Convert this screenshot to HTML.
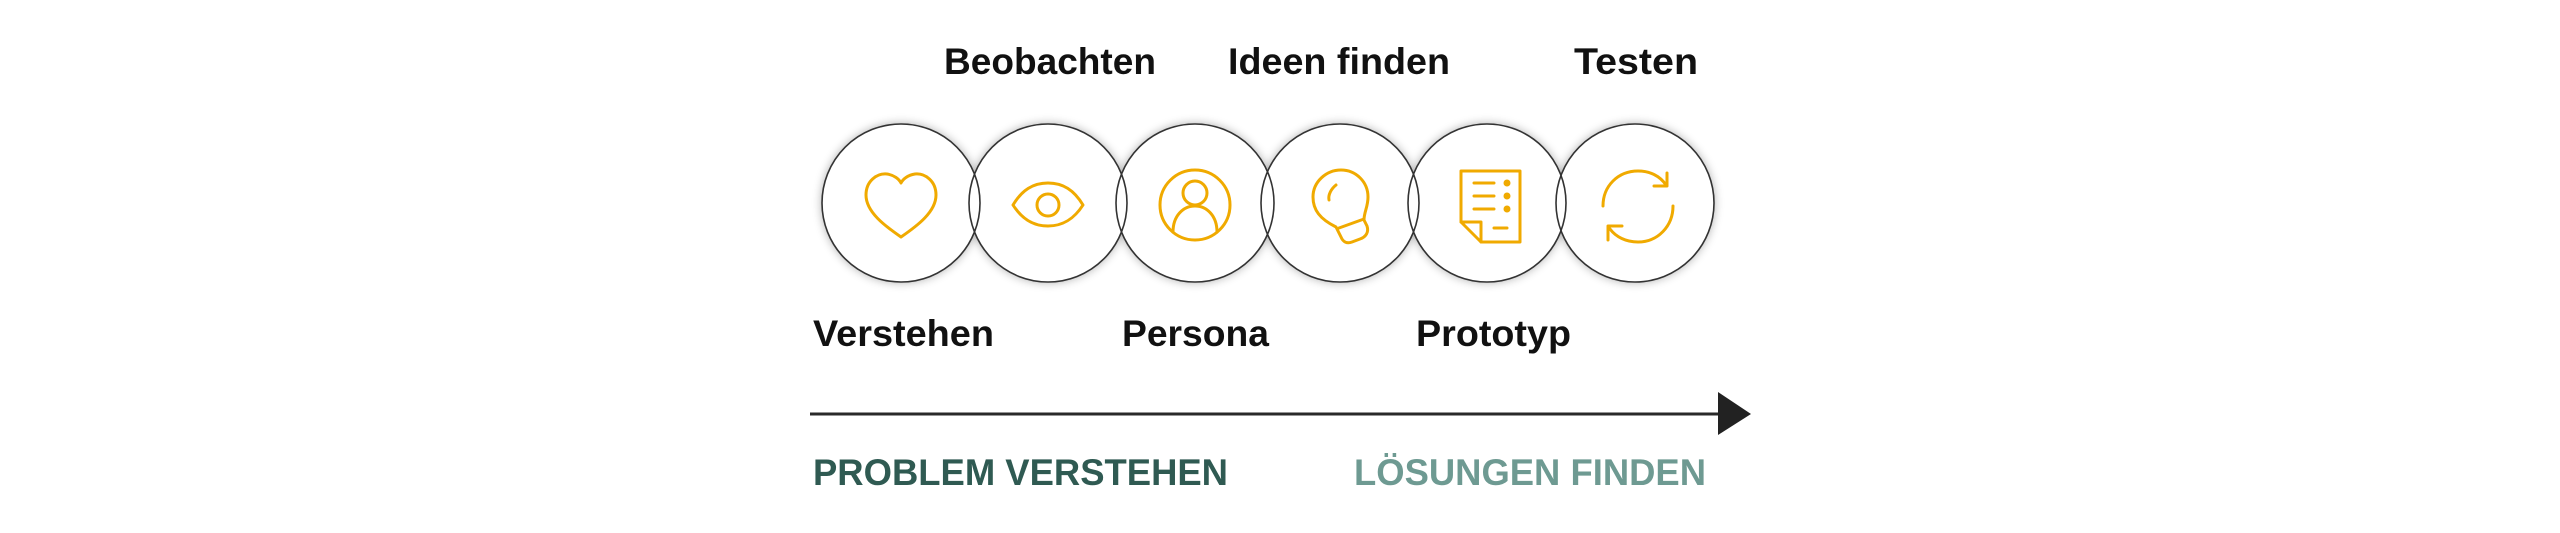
<!DOCTYPE html>
<html><head><meta charset="utf-8"><style>
html,body{margin:0;padding:0;background:#fff;}
svg{display:block}
text{font-family:"Liberation Sans",Arial,sans-serif;font-weight:bold}
</style></head><body>
<svg width="2560" height="533" viewBox="0 0 2560 533" xmlns="http://www.w3.org/2000/svg">
<defs>
<filter id="sh" x="-30%" y="-30%" width="160%" height="160%">
<feGaussianBlur in="SourceAlpha" stdDeviation="5"/>
<feComponentTransfer><feFuncA type="linear" slope="0.35"/></feComponentTransfer>
<feMerge><feMergeNode/><feMergeNode in="SourceGraphic"/></feMerge>
</filter>
</defs>
<g filter="url(#sh)" fill="#fff">
<circle cx="901" cy="203" r="79"/><circle cx="1048" cy="203" r="79"/><circle cx="1195" cy="203" r="79"/>
<circle cx="1340" cy="203" r="79"/><circle cx="1487" cy="203" r="79"/><circle cx="1635" cy="203" r="79"/>
</g>
<g fill="none" stroke="#333" stroke-width="1.6">
<circle cx="901" cy="203" r="79"/><circle cx="1048" cy="203" r="79"/><circle cx="1195" cy="203" r="79"/>
<circle cx="1340" cy="203" r="79"/><circle cx="1487" cy="203" r="79"/><circle cx="1635" cy="203" r="79"/>
</g>
<g fill="none" stroke="#f0aa00" stroke-width="3" stroke-linecap="round" stroke-linejoin="round">
<!-- heart -->
<path d="M901 237 C885 226 866 212 866 195 C866 181 877 173 887 174 C894 175 899 179 901 183 C903 179 908 175 915 174 C925 173 936 181 936 195 C936 212 917 226 901 237 Z"/>
<!-- eye -->
<path d="M1013 205 C1022 190 1033 183 1048 183 C1063 183 1074 190 1083 205 C1074 219 1063 226 1048 226 C1033 226 1022 219 1013 205 Z"/>
<circle cx="1048" cy="205" r="11"/>
<!-- persona -->
<circle cx="1195" cy="205" r="35"/>
<circle cx="1195" cy="193" r="12"/>
<path d="M1173 232 C1173 216 1183 206 1195 206 C1207 206 1217 216 1217 232"/>
<!-- bulb -->
<path d="M1336 227 C1320 219 1313 210 1313 197 C1313 182 1326 170 1341 170 C1356 170 1368 182 1368 197 C1368 207 1364 212 1364 220 L1367 226 C1369 232 1366 237 1360 239 L1352 242 C1347 244 1343 242 1341 237 Z"/>
<path d="M1339 228 L1364 219"/>
<path d="M1336 185 C1331 189 1328 195 1329 200"/>
<!-- document -->
<path d="M1461 171 L1520 171 L1520 242 L1481 242 L1461 222 Z"/>
<path d="M1461 222 L1481 222 L1481 242"/>
<path d="M1474 183 L1494 183 M1474 196 L1494 196 M1474 209 L1494 209 M1494 228 L1507 228"/>
<circle cx="1507" cy="183" r="2" fill="#f0aa00"/><circle cx="1507" cy="196" r="2" fill="#f0aa00"/><circle cx="1507" cy="209" r="2" fill="#f0aa00"/>
<!-- refresh -->
<path d="M1603 206 C1603 186 1618 171 1638 171 C1650 171 1660 176 1666 185"/>
<path d="M1667 173 L1667 186 L1654 186"/>
<path d="M1673 206 C1673 226 1658 242 1638 242 C1626 242 1616 237 1610 229"/>
<path d="M1608 240 L1608 226 L1622 226"/>
</g>
<g font-size="37" fill="#111">
<text x="944" y="74" textLength="212" lengthAdjust="spacingAndGlyphs">Beobachten</text>
<text x="1228" y="74" textLength="222" lengthAdjust="spacingAndGlyphs">Ideen finden</text>
<text x="1574" y="74" textLength="124" lengthAdjust="spacingAndGlyphs">Testen</text>
<text x="813" y="346" textLength="181" lengthAdjust="spacingAndGlyphs">Verstehen</text>
<text x="1122" y="346" textLength="147" lengthAdjust="spacingAndGlyphs">Persona</text>
<text x="1416" y="346" textLength="155" lengthAdjust="spacingAndGlyphs">Prototyp</text>
</g>
<line x1="810" y1="414" x2="1722" y2="414" stroke="#2a2a2a" stroke-width="3"/>
<polygon points="1718,392 1751,414 1718,435" fill="#222"/>
<text x="813" y="485" font-size="37" fill="#2f5a52" textLength="415" lengthAdjust="spacingAndGlyphs">PROBLEM VERSTEHEN</text>
<text x="1354" y="485" font-size="37" fill="#6e9a92" textLength="352" lengthAdjust="spacingAndGlyphs">LÖSUNGEN FINDEN</text>
</svg>
</body></html>
